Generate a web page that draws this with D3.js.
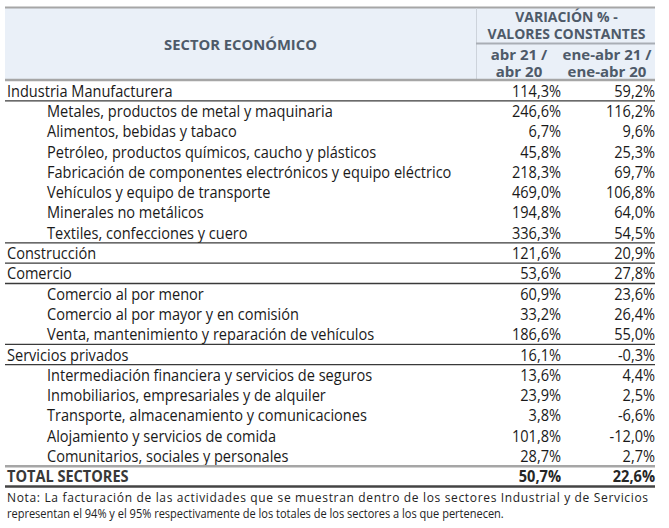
<!DOCTYPE html>
<html><head><meta charset="utf-8">
<script src="https://cdn.jsdelivr.net/npm/d3@7"></script>
<style>
html,body{margin:0;padding:0;background:#fff;}
svg{display:block;}
text{font-family:"Open Sans",sans-serif;}
</style></head>
<body>
<svg id="c" width="669" height="528"></svg>
<script>
const categories = [
  "Industria Manufacturera",
  "Metales, productos de metal y maquinaria",
  "Alimentos, bebidas y tabaco",
  "Petróleo, productos químicos, caucho y plásticos",
  "Fabricación de componentes electrónicos y equipo eléctrico",
  "Vehículos y equipo de transporte",
  "Minerales no metálicos",
  "Textiles, confecciones y cuero",
  "Construcción",
  "Comercio",
  "Comercio al por menor",
  "Comercio al por mayor y en comisión",
  "Venta, mantenimiento y reparación de vehículos",
  "Servicios privados",
  "Intermediación financiera y servicios de seguros",
  "Inmobiliarios, empresariales y de alquiler",
  "Transporte, almacenamiento y comunicaciones",
  "Alojamiento y servicios de comida",
  "Comunitarios, sociales y personales",
  "TOTAL SECTORES"
];
const levels = [0,1,1,1,1,1,1,1,0,0,1,1,1,0,1,1,1,1,1,2];
const abr21_abr20 = [114.3,246.6,6.7,45.8,218.3,469.0,194.8,336.3,121.6,53.6,60.9,33.2,186.6,16.1,13.6,23.9,3.8,101.8,28.7,50.7];
const eneabr21_eneabr20 = [59.2,116.2,9.6,25.3,69.7,106.8,64.0,54.5,20.9,27.8,23.6,26.4,55.0,-0.3,4.4,2.5,-6.6,-12.0,2.7,22.6];
const headerTop = ["VARIACIÓN % -","VALORES CONSTANTES"];
const colHeaders = [["abr 21 /","abr 20"],["ene-abr 21 /","ene-abr 20"]];
const sectorHeader = "SECTOR ECONÓMICO";
const noteLines = ["Nota: La facturación de las actividades que se muestran dentro de los sectores Industrial y de Servicios",
  "representan el 94% y el 95% respectivamente de los totales de los sectores a los que pertenecen."];
const ruleAfter = [0,7,8,9,12,13];

const svg = d3.select("#c");
const L = 5, R = 655, split = 476;
const fmt = v => v.toFixed(1).replace(".", ",") + "%";

const y = d3.scaleBand().domain(d3.range(categories.length)).range([80.5, 486.5]);
const colRight = [561, 655];

function measure(txt, size, weight) {
  const t = svg.append("text").attr("font-size", size).attr("font-weight", weight).text(txt);
  const w = t.node().getComputedTextLength(); t.remove(); return w;
}
const bodySize = 15.5;
const sx = 405 / measure(categories[4], bodySize, 400);
const hSize = 15;
const hsx = 158 / measure(headerTop[1], hSize, 700);

function put(g, x, yy, txt, size, weight, fill, anchor, scale) {
  return g.append("text").attr("transform", `translate(${x},${yy}) scale(${scale},1)`)
    .attr("text-anchor", anchor).attr("font-size", size).attr("font-weight", weight)
    .attr("fill", fill).text(txt);
}

// header
svg.append("rect").attr("x", L).attr("y", 8).attr("width", R - L).attr("height", 72).attr("fill", "#eaf0f8");
svg.append("line").attr("x1", L).attr("x2", R).attr("y1", 7.5).attr("y2", 7.5).attr("stroke", "#a6a6a6").attr("stroke-width", 2);
svg.append("line").attr("x1", split + 0.5).attr("x2", split + 0.5).attr("y1", 8).attr("y2", 79).attr("stroke", "#cdd3db").attr("stroke-width", 1);
svg.append("line").attr("x1", split).attr("x2", R).attr("y1", 43.5).attr("y2", 43.5).attr("stroke", "#a9aeb5").attr("stroke-width", 2);
svg.append("line").attr("x1", L).attr("x2", R).attr("y1", 80).attr("y2", 80).attr("stroke", "#a6a6a6").attr("stroke-width", 2.5);

const hCol = "#4e5a69";
const hg = svg.append("g");
put(hg, (L + split) / 2, 50, sectorHeader, hSize, 700, hCol, "middle", 153 / measure(sectorHeader, hSize, 700));
headerTop.forEach((t, i) => put(hg, (split + R) / 2 + 1, 22 + i * 16.5, t, hSize, 700, hCol, "middle", hsx));
const colCenters = [519, 607];
colHeaders.forEach((lines, c) => lines.forEach((t, i) =>
  put(hg, colCenters[c], 60 + i * 17, t, hSize, 700, hCol, "middle", 1)));

// rows
const rows = svg.append("g").selectAll("g").data(categories).join("g")
  .attr("transform", (d, i) => `translate(0,${y(i) + y.bandwidth() / 2 + 6})`);
rows.each(function(d, i) {
  const g = d3.select(this);
  const tot = levels[i] === 2;
  const col = tot ? "#383838" : "#1a1a1a";
  put(g, levels[i] === 1 ? 47 : 7, 0, d, bodySize, tot ? 700 : 400, col, "start", sx);
  [abr21_abr20, eneabr21_eneabr20].forEach((s, c) =>
    put(g, colRight[c], 0, fmt(s[i]), bodySize, tot ? 700 : 400, tot ? "#262626" : "#1a1a1a", "end", sx));
});

// rules
ruleAfter.forEach(i => svg.append("line").attr("x1", L).attr("x2", R)
  .attr("y1", y(i) + y.bandwidth()).attr("y2", y(i) + y.bandwidth()).attr("stroke", "#3a3a3a").attr("stroke-width", 1.3));
const iTot = categories.length - 1;
svg.append("line").attr("x1", L).attr("x2", R).attr("y1", y(iTot)).attr("y2", y(iTot)).attr("stroke", "#a6a6a6").attr("stroke-width", 2.5);
svg.append("line").attr("x1", L).attr("x2", R).attr("y1", y(iTot) + y.bandwidth()).attr("y2", y(iTot) + y.bandwidth()).attr("stroke", "#444").attr("stroke-width", 2.5);

// note
const noteSize = 12;
noteLines.forEach((t, i) => {
  if (i === 0) {
    svg.append("text").attr("x", 7).attr("y", 502).attr("font-size", noteSize).attr("fill", "#222")
      .attr("textLength", 641).attr("lengthAdjust", "spacing").text(t);
  } else {
    put(svg, 7, 518, t, noteSize, 400, "#222", "start", 497 / measure(t, noteSize, 400));
  }
});
</script>
</body></html>
